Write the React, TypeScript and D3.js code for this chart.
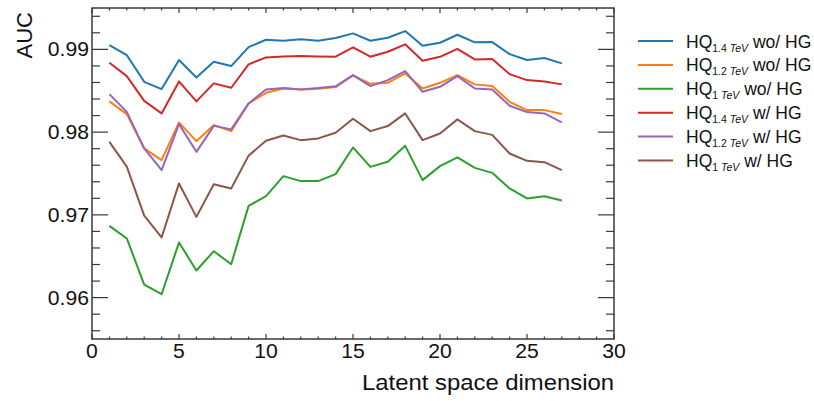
import React from "react";
import * as d3 from "d3";

const dims = d3.range(1, 28);

const hq14Wo = [0.99052, 0.98931, 0.98608, 0.9852, 0.98871, 0.98661, 0.9885, 0.98798, 0.99028, 0.99116, 0.99104, 0.99121, 0.99104, 0.99137, 0.99193, 0.99104, 0.9914, 0.99221, 0.99044, 0.9908, 0.99177, 0.99085, 0.99088, 0.98943, 0.98871, 0.98895, 0.98831];
const hq12Wo = [0.98371, 0.98218, 0.97803, 0.97661, 0.98117, 0.97891, 0.98085, 0.98012, 0.98347, 0.98475, 0.98528, 0.98516, 0.98524, 0.98544, 0.98686, 0.98584, 0.98596, 0.9871, 0.98528, 0.98596, 0.98689, 0.98577, 0.98556, 0.98366, 0.98266, 0.98266, 0.98218];
const hq1Wo = [0.96867, 0.96715, 0.96158, 0.96041, 0.96666, 0.96328, 0.96561, 0.96404, 0.97109, 0.97226, 0.97468, 0.97408, 0.97408, 0.97492, 0.97815, 0.9758, 0.97641, 0.97834, 0.9742, 0.97589, 0.97694, 0.97568, 0.97508, 0.97319, 0.97198, 0.97226, 0.97174];
const hq14W = [0.98838, 0.98677, 0.98378, 0.98226, 0.98613, 0.98371, 0.98589, 0.98536, 0.98819, 0.98903, 0.98915, 0.98919, 0.98914, 0.98911, 0.99024, 0.98911, 0.98971, 0.99061, 0.98862, 0.9891, 0.99007, 0.98879, 0.98883, 0.98701, 0.98629, 0.98613, 0.98577];
const hq12W = [0.98459, 0.98245, 0.97803, 0.97541, 0.98097, 0.97762, 0.98076, 0.98033, 0.98347, 0.98516, 0.98532, 0.98516, 0.98532, 0.98553, 0.98689, 0.98556, 0.98629, 0.98738, 0.98487, 0.98548, 0.98677, 0.98528, 0.98516, 0.98318, 0.98242, 0.98226, 0.98117];
const hq1W = [0.97883, 0.97583, 0.9699, 0.96727, 0.9738, 0.96976, 0.97371, 0.97319, 0.97716, 0.97895, 0.9796, 0.97903, 0.97924, 0.97992, 0.98161, 0.98012, 0.98073, 0.98226, 0.97903, 0.97984, 0.98154, 0.98012, 0.97967, 0.97742, 0.97653, 0.97637, 0.97541];

const seriesValues = [hq14Wo, hq12Wo, hq1Wo, hq14W, hq12W, hq1W];
const seriesSub = ["1.4 ", "1.2 ", "1 ", "1.4 ", "1.2 ", "1 "];
const seriesSuffix = [" wo/ HG", " wo/ HG", " wo/ HG", " w/ HG", " w/ HG", " w/ HG"];
const colors = ["#1f77b4", "#ff7f0e", "#2ca02c", "#d62728", "#9467bd", "#8c564b"];

const xMajor = [0, 5, 10, 15, 20, 25, 30];
const yMajor = [0.96, 0.97, 0.98, 0.99];

const W = 814;
const H = 401;
const L = 92, R = 614, T = 8, B = 339;
const FONT = "'Liberation Sans', Arial, Helvetica, sans-serif";
const SX = 1.085;

export default function App() {
  const x = d3.scaleLinear().domain([0, 30]).range([L, R]);
  const y = d3.scaleLinear().domain([0.955, 0.995]).range([B, T]);
  const line = d3
    .line<[number, number]>()
    .x((d) => x(d[0]))
    .y((d) => y(d[1]));

  const xMinor = d3.range(0, 31, 1).filter((v) => v % 5 !== 0);
  const yMinor = d3.range(0, 21).map((i) => 0.956 + i * 0.002).filter((v) => Math.abs(v * 100 - Math.round(v * 100)) > 1e-6 && v < 0.995);

  const axisColor = "#3a3a3a";

  return (
    <svg width={W} height={H} style={{ position: "absolute", left: 0, top: 0, background: "#fff" }} fontFamily={FONT}>
      {/* lines */}
      <g fill="none" strokeWidth={2} strokeLinejoin="round">
        {seriesValues.map((vals, i) => (
          <path key={i} d={line(dims.map((d, j) => [d, vals[j]]) as [number, number][]) || ""} stroke={colors[i]} />
        ))}
      </g>

      {/* ticks */}
      <g stroke={axisColor} strokeWidth={1.2}>
        {yMajor.map((v) => (
          <g key={"ym" + v}>
            <line x1={L} x2={L + 16} y1={y(v)} y2={y(v)} />
            <line x1={R} x2={R - 16} y1={y(v)} y2={y(v)} />
          </g>
        ))}
        {yMinor.map((v, i) => (
          <g key={"yn" + i}>
            <line x1={L} x2={L + 8} y1={y(v)} y2={y(v)} />
            <line x1={R} x2={R - 8} y1={y(v)} y2={y(v)} />
          </g>
        ))}
        {xMajor.map((v) => (
          <g key={"xm" + v}>
            <line x1={x(v)} x2={x(v)} y1={B} y2={B - 5} />
            <line x1={x(v)} x2={x(v)} y1={T} y2={T + 5} />
          </g>
        ))}
        {xMinor.map((v) => (
          <g key={"xn" + v}>
            <line x1={x(v)} x2={x(v)} y1={B} y2={B - 2.5} />
            <line x1={x(v)} x2={x(v)} y1={T} y2={T + 2.5} />
          </g>
        ))}
      </g>
      <rect x={L} y={T} width={R - L} height={B - T} fill="none" stroke={axisColor} strokeWidth={1.5} />

      {/* tick labels */}
      <g fontSize={19.5} fill="#111">
        {yMajor.map((v) => (
          <text key={"yl" + v} transform={`translate(${L - 3}, ${y(v) + 7}) scale(${SX},1)`} textAnchor="end">
            {d3.format(".2f")(v)}
          </text>
        ))}
        {xMajor.map((v) => (
          <text key={"xl" + v} transform={`translate(${x(v)}, 358) scale(${SX},1)`} textAnchor="middle">
            {v}
          </text>
        ))}
      </g>

      {/* axis titles */}
      <text transform={`translate(${R}, 390) scale(${SX},1)`} textAnchor="end" fontSize={22} fill="#111">
        Latent space dimension
      </text>
      <text transform={`translate(32, 12) rotate(-90)`} textAnchor="end" fontSize={22} fill="#111">
        AUC
      </text>

      {/* legend */}
      <g>
        {colors.map((c, i) => {
          const ly = 41 + i * 23.9;
          return (
            <g key={"lg" + i}>
              <line x1={638} x2={673} y1={ly} y2={ly} stroke={c} strokeWidth={2} />
              <text x={686} y={ly + 6.5} fontSize={17.5} fill="#111">
                HQ
                <tspan fontSize={10.5} dy={4}>{seriesSub[i]}</tspan>
                <tspan fontSize={10.5} fontStyle="italic">TeV</tspan>
                <tspan dy={-4}>{seriesSuffix[i]}</tspan>
              </text>
            </g>
          );
        })}
      </g>
    </svg>
  );
}
